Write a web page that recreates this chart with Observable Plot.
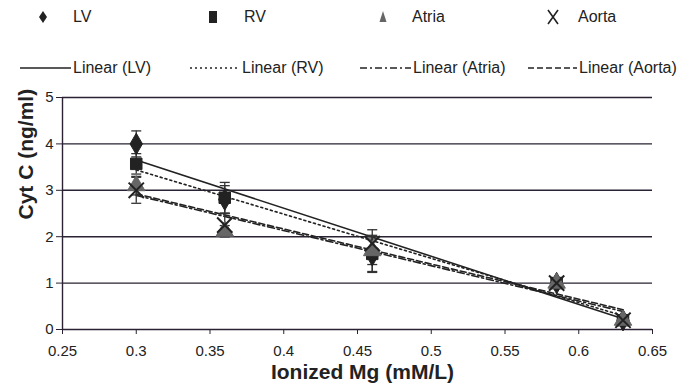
<!DOCTYPE html>
<html>
<head>
<meta charset="utf-8">
<script src="https://cdn.jsdelivr.net/npm/d3@7"></script>
<script src="https://cdn.jsdelivr.net/npm/@observablehq/plot@0.6"></script>
<style>
  html, body { margin: 0; padding: 0; background: #fff; }
  #wrap { position: relative; width: 689px; height: 392px; overflow: hidden; font-family: "Liberation Sans", Arial, sans-serif; color: #222; }
  #legend { position: absolute; left: 0; top: 0; width: 689px; height: 88px; }
  .lg { position: absolute; font-size: 16px; line-height: 16px; white-space: nowrap; }
  #chart { position: absolute; left: 0; top: 88px; }
</style>
</head>
<body>
<div id="wrap">
  <div id="legend"></div>
  <div id="chart"></div>
</div>
<script>
// ---- data ----
const series = ["LV", "RV", "Atria", "Aorta"];
const mg = [0.3, 0.36, 0.46, 0.585, 0.63];
const lvVals = [4.0, 2.8, 1.6, 1.0, 0.2];
const rvVals = [3.57, 2.84, 1.63, 1.0, 0.2];
const atriaVals = [3.1, 2.12, 1.7, 1.0, 0.2];
const aortaVals = [3.0, 2.25, 1.85, 1.0, 0.2];
const lvErr = [0.28, 0.3, 0.35, 0.1, 0.1];
const rvErr = [0.22, 0.33, 0.4, 0.1, 0.1];
const atriaErr = [0.2, 0.12, 0.3, 0.1, 0.1];
const aortaErr = [0.28, 0.25, 0.3, 0.1, 0.1];
const xTicks = [0.25, 0.3, 0.35, 0.4, 0.45, 0.5, 0.55, 0.6, 0.65];
const yTicks = [0, 1, 2, 3, 4, 5];
const xTitle = "Ionized Mg (mM/L)";
const yTitle = "Cyt C (ng/ml)";

// ---- styles ----
const symbols = {LV: "diamond", RV: "square", Atria: "triangle", Aorta: "times"};
const fills = {LV: "#222", RV: "#222", Atria: "#666", Aorta: "none"};
const strokes = {LV: "#222", RV: "#222", Atria: "#666", Aorta: "#222"};
const dashes = {LV: null, RV: "2,3", Atria: "7,3,2,3", Aorta: "6,3"};

const valsBy = {LV: lvVals, RV: rvVals, Atria: atriaVals, Aorta: aortaVals};
const errBy = {LV: lvErr, RV: rvErr, Atria: atriaErr, Aorta: aortaErr};
const rows = [];
for (const s of series) mg.forEach((x, i) => rows.push({s, x, y: valsBy[s][i], e: errBy[s][i]}));

const cap = { draw(ctx, size) { const w = 5; ctx.moveTo(-w, 0); ctx.lineTo(w, 0); } };

const marks = [
  Plot.ruleY(yTicks, {stroke: "#2a2233", strokeWidth: 1.4}),
  Plot.ruleX([0.25], {stroke: "#2a2233", strokeWidth: 1.4}),
  Plot.axisX({ticks: xTicks, tickFormat: d => String(d), tickSize: 5, tickPadding: 11, fontSize: 15, stroke: "#2a2233", fill: "#222", label: null}),
  Plot.axisY({ticks: yTicks, tickFormat: d3.format("d"), tickSize: 6, tickPadding: 3, fontSize: 15, stroke: "#2a2233", fill: "#222", label: null}),
  Plot.text([xTitle], {frameAnchor: "bottom", dy: 49, dx: 5, fontSize: 21, fontWeight: "bold", fill: "#222"}),
  Plot.text([yTitle], {frameAnchor: "left", dx: -36, dy: 6, rotate: -90, fontSize: 21, fontWeight: "bold", fill: "#222"})
];
for (const s of series) {
  const d = rows.filter(r => r.s === s);
  marks.push(Plot.linearRegressionY(d, {x: "x", y: "y", ci: 0, stroke: "#222", strokeWidth: 1.6, strokeDasharray: dashes[s]}));
}
for (const s of series) {
  const d = rows.filter(r => r.s === s);
  marks.push(Plot.ruleX(d, {x: "x", y1: r => r.y - r.e, y2: r => r.y + r.e, stroke: "#333", strokeWidth: 1.3}));
  marks.push(Plot.dot(d, {x: "x", y: r => r.y + r.e, symbol: cap, r: 5, stroke: "#333", strokeWidth: 1.3}));
  marks.push(Plot.dot(d, {x: "x", y: r => r.y - r.e, symbol: cap, r: 5, stroke: "#333", strokeWidth: 1.3}));
}
for (const s of series) {
  const d = rows.filter(r => r.s === s);
  marks.push(Plot.dot(d, {x: "x", y: "y", symbol: symbols[s], r: s === "Aorta" ? 7 : 6.5, fill: fills[s], stroke: strokes[s], strokeWidth: s === "Aorta" ? 2 : 1}));
}

const chart = Plot.plot({
  width: 689,
  height: 304,
  marginTop: 9,
  marginBottom: 63,
  marginLeft: 62,
  marginRight: 37,
  style: {fontFamily: "'Liberation Sans', Arial, sans-serif", background: "#fff"},
  x: {domain: [0.25, 0.65]},
  y: {domain: [0, 5]},
  marks
});
document.getElementById("chart").appendChild(chart);

// ---- legend ----
const legend = document.getElementById("legend");
const symX = [43, 213, 383, 553];
const txtX1 = [73, 244, 412, 578];
const lineX = [[20, 71], [190, 240], [360, 411], [528, 577]];
const txtX2 = [73, 242, 413, 579];
const symPath = {
  LV: `<path d="M0,-6L4,0L0,6L-4,0Z" fill="#222"/>`,
  RV: `<rect x="-4" y="-6" width="8" height="12" fill="#222"/>`,
  Atria: `<path d="M0,-6L3.5,5L-3.5,5Z" fill="#666"/>`,
  Aorta: `<path d="M-5,-7L5,7M5,-7L-5,7" stroke="#222" stroke-width="1.6" fill="none"/>`
};
series.forEach((s, i) => {
  const sv = document.createElementNS("http://www.w3.org/2000/svg", "svg");
  sv.setAttribute("width", 20); sv.setAttribute("height", 20);
  sv.style.position = "absolute"; sv.style.left = (symX[i] - 10) + "px"; sv.style.top = (17 - 10) + "px";
  sv.innerHTML = `<g transform="translate(10,10)">${symPath[s]}</g>`;
  legend.appendChild(sv);
  const t1 = document.createElement("div");
  t1.className = "lg"; t1.textContent = s;
  t1.style.left = txtX1[i] + "px"; t1.style.top = (17 - 8) + "px";
  legend.appendChild(t1);
  const [a, b] = lineX[i];
  const lv = document.createElementNS("http://www.w3.org/2000/svg", "svg");
  lv.setAttribute("width", b - a); lv.setAttribute("height", 6);
  lv.style.position = "absolute"; lv.style.left = a + "px"; lv.style.top = (68 - 3) + "px";
  lv.innerHTML = `<line x1="0" y1="3" x2="${b - a}" y2="3" stroke="#222" stroke-width="1.6" ${dashes[s] ? `stroke-dasharray="${dashes[s]}"` : ""}/>`;
  legend.appendChild(lv);
  const t2 = document.createElement("div");
  t2.className = "lg"; t2.textContent = `Linear (${s})`;
  t2.style.left = txtX2[i] + "px"; t2.style.top = (68 - 8) + "px";
  legend.appendChild(t2);
});
</script>
</body>
</html>
